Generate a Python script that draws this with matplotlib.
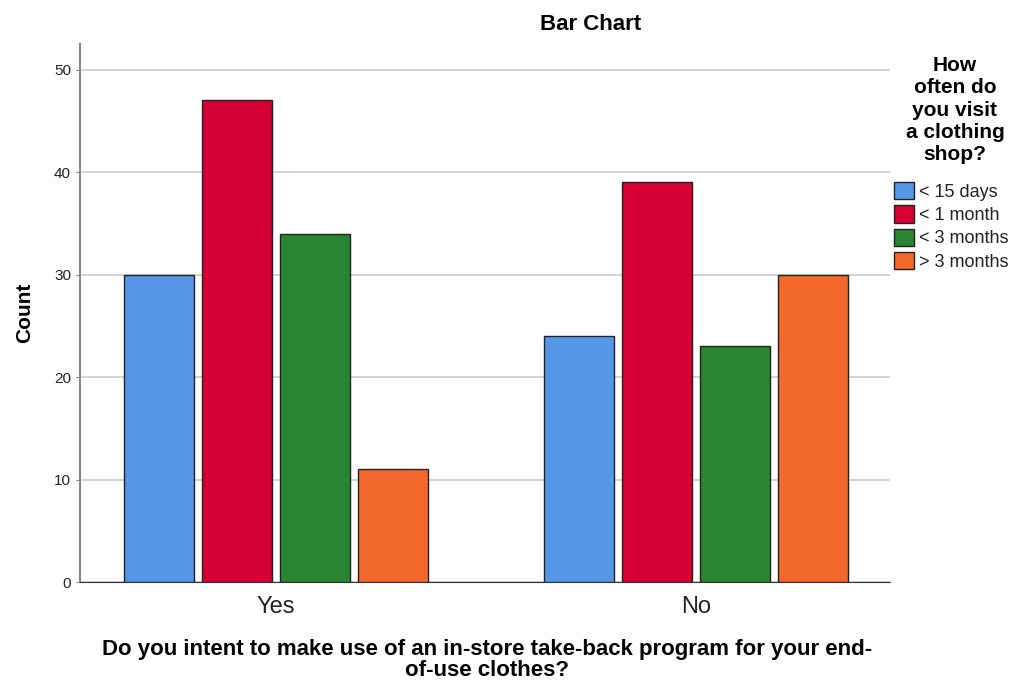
import matplotlib.pyplot as plt
import numpy as np

plt.rcParams['font.family'] = ['Liberation Sans', 'DejaVu Sans']

groups = ['Yes', 'No']
series = ['< 15 days', '< 1 month', '< 3 months', '> 3 months']
counts = {
    '< 15 days': [30, 24],
    '< 1 month': [47, 39],
    '< 3 months': [34, 23],
    '> 3 months': [11, 30],
}
colors = ['#5596E6', '#D60032', '#2A8530', '#F3692B']

fig = plt.figure(figsize=(10.15, 6.82), dpi=100)
ax = fig.add_axes([80/1015, 100/682, 810/1015, 538/682])

x = np.arange(len(groups))
width = 70/420
step = 78/420
for i, (name, col) in enumerate(zip(series, colors)):
    offs = (i - 1.5) * step
    ax.bar(x + offs, counts[name], width, color=col, edgecolor='#222222',
           linewidth=1.0, label=name, zorder=3)

ax.set_xlim(-196/420, 1 + 194/420)
ax.set_ylim(0, 52.5)
ax.set_yticks([0, 10, 20, 30, 40, 50])
ax.yaxis.grid(True, color='#cccccc', linewidth=1.2, zorder=0)
ax.set_axisbelow(True)
ax.set_xticks(x)
ax.set_xticklabels(groups, fontsize=17, color='#222222')
ax.tick_params(axis='y', labelsize=11, length=3, color='#888888', labelcolor='#222222')
ax.tick_params(axis='x', length=0, pad=10)
for s in ['top', 'right']:
    ax.spines[s].set_visible(False)
ax.spines['left'].set_color('#888888')
ax.spines['left'].set_linewidth(1.5)
ax.spines['bottom'].set_color('#333333')

ax.set_ylabel('Count', fontsize=15, fontweight='bold', labelpad=14)

# x label placed by hand so the two lines sit like the SPSS output
fig.text(487/1015, 1 - 660/682,
         'Do you intent to make use of an in-store take-back program for your end-\nof-use clothes?',
         ha='center', va='center', fontsize=16, fontweight='bold', linespacing=0.95)

fig.text(591/1015, 1 - 25/682, 'Bar Chart', ha='center', va='center',
         fontsize=16, fontweight='bold')

fig.text(955/1015, 1 - 110/682, 'How\noften do\nyou visit\na clothing\nshop?',
         ha='center', va='center', fontsize=15, fontweight='bold', linespacing=1.23)

leg = ax.legend(loc='upper left', bbox_to_anchor=(894/1015, 1 - 182/682),
                bbox_transform=fig.transFigure, frameon=False, fontsize=13,
                handlelength=1.1, handleheight=1.1, handletextpad=0.3,
                labelspacing=0.25, borderaxespad=0, borderpad=0)
for t in leg.get_texts():
    t.set_color('#222222')

fig.savefig('out.png', dpi=100)
